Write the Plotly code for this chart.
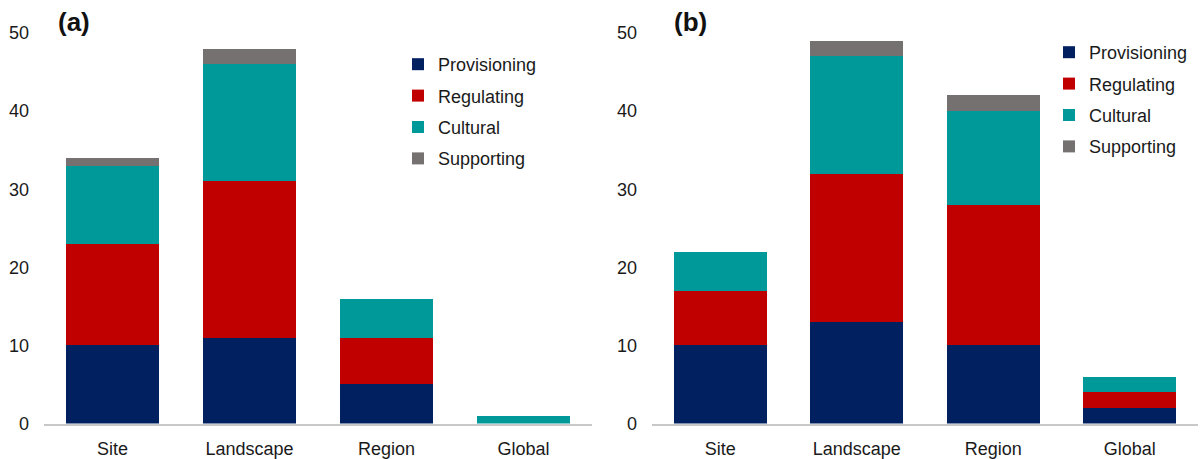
import plotly.graph_objects as go

# Ecosystem-service counts by spatial scale
scales = ["Site", "Landscape", "Region", "Global"]
service_types = ["Provisioning", "Regulating", "Cultural", "Supporting"]

# Panel (a)
a_provisioning = [10, 11, 5, 0]
a_regulating = [13, 20, 6, 0]
a_cultural = [10, 15, 5, 1]
a_supporting = [1, 2, 0, 0]

# Panel (b)
b_provisioning = [10, 13, 10, 2]
b_regulating = [7, 19, 18, 2]
b_cultural = [5, 15, 12, 2]
b_supporting = [0, 2, 2, 0]

y_ticks = [0, 10, 20, 30, 40, 50]
panel_labels = ["(a)", "(b)"]

colors = {
    "Provisioning": "#002060",
    "Regulating": "#C00000",
    "Cultural": "#009999",
    "Supporting": "#767171",
}

panels = [
    dict(values=[a_provisioning, a_regulating, a_cultural, a_supporting],
         xaxis="x", yaxis="y", legend="legend"),
    dict(values=[b_provisioning, b_regulating, b_cultural, b_supporting],
         xaxis="x2", yaxis="y2", legend="legend2"),
]

fig = go.Figure()
for p in panels:
    for name, vals in zip(service_types, p["values"]):
        fig.add_trace(go.Bar(
            x=scales, y=vals, name=name,
            marker=dict(color=colors[name], line=dict(width=0)),
            xaxis=p["xaxis"], yaxis=p["yaxis"],
            legend=p["legend"], legendgroup=p["legend"] + name,
        ))

font_family = "Liberation Sans, Arial, sans-serif"
tick_font = dict(family=font_family, size=18, color="#1a1a1a")

y_dom = [(459 - 423.5) / 459, (459 - 33) / 459]
x_doms = [[44 / 1201, 592 / 1201], [652 / 1201, 1198 / 1201]]

axis_x = dict(showline=True, linecolor="#C8C8C8", linewidth=1.5,
              showgrid=False, zeroline=False, ticks="", automargin=False,
              tickfont=tick_font, ticklabelstandoff=8, fixedrange=True)
axis_y = dict(range=[0, 50], tickvals=y_ticks, showline=False,
              showgrid=False, zeroline=False, ticks="", automargin=False,
              tickfont=tick_font, ticklabelstandoff=14, fixedrange=True)

legend_style = dict(font=dict(family=font_family, size=18, color="#1a1a1a"),
                    traceorder="grouped", tracegroupgap=5,
                    bgcolor="rgba(0,0,0,0)", itemclick=False,
                    xanchor="left", yanchor="top", itemwidth=30)

fig.update_layout(
    width=1201, height=459,
    margin=dict(l=0, r=0, t=0, b=0, autoexpand=False),
    paper_bgcolor="white", plot_bgcolor="white",
    barmode="stack", bargap=0.32,
    xaxis=dict(domain=x_doms[0], anchor="y", **axis_x),
    yaxis=dict(domain=y_dom, anchor="x", **axis_y),
    xaxis2=dict(domain=x_doms[1], anchor="y2", **axis_x),
    yaxis2=dict(domain=y_dom, anchor="x2", **axis_y),
    legend=dict(x=398 / 1201, y=1 - 46 / 459, **legend_style),
    legend2=dict(x=1049 / 1201, y=1 - 34 / 459, **legend_style),
)

label_x = [56 / 1201, 672 / 1201]
for lx, txt in zip(label_x, panel_labels):
    fig.add_annotation(
        x=lx, y=1 - 22 / 459, xref="paper", yref="paper",
        xanchor="left", yanchor="middle", showarrow=False, text="<b>" + txt + "</b>",
        font=dict(family=font_family, size=26, color="#111111"),
    )

fig.write_html("out.html")
